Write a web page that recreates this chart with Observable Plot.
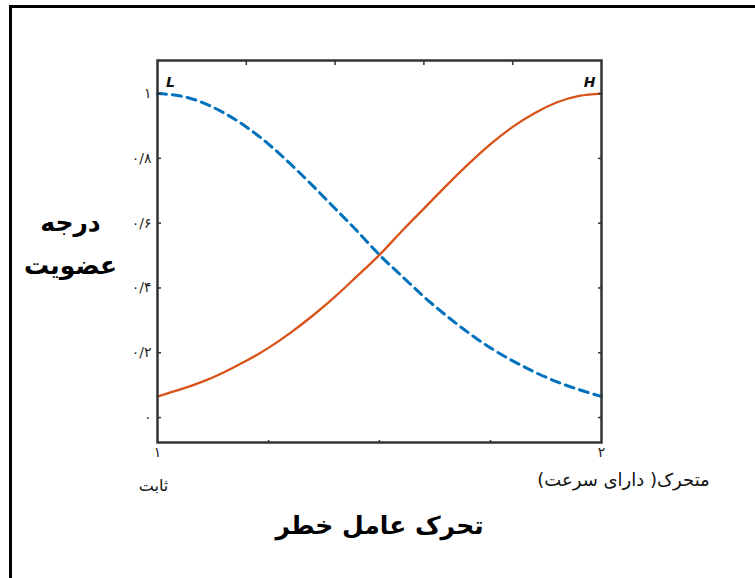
<!DOCTYPE html>
<html>
<head>
<meta charset="utf-8">
<script src="https://cdn.jsdelivr.net/npm/d3@7"></script>
<script src="https://cdn.jsdelivr.net/npm/@observablehq/plot@0.6"></script>
<style>
  html, body { margin: 0; padding: 0; background: #fff; }
  #wrap { position: relative; width: 755px; height: 578px; overflow: hidden; }
  #border { position: absolute; left: 9px; top: 5px; right: -10px; bottom: -10px;
            border-left: 3px solid #000; border-top: 3px solid #000; pointer-events: none; }
  #chart { position: absolute; left: 0; top: 0; }
</style>
</head>
<body>
<div id="wrap"><div id="chart"></div><div id="border"></div></div>
<script>
// ---- data ----
const xValues = [1, 1.05, 1.1, 1.15, 1.2, 1.25, 1.3, 1.35, 1.4, 1.45, 1.5,
                 1.55, 1.6, 1.65, 1.7, 1.75, 1.8, 1.85, 1.9, 1.95, 2];
// H (orange, solid)
const highValues = [0.065, 0.086, 0.11, 0.14, 0.175, 0.215, 0.262, 0.315, 0.373, 0.437, 0.502,
                    0.575, 0.645, 0.715, 0.782, 0.844, 0.897, 0.94, 0.973, 0.993, 1.0];
// L (blue, dashed)
const lowValues = [1.0, 0.993, 0.973, 0.94, 0.897, 0.844, 0.782, 0.715, 0.645, 0.575, 0.502,
                   0.437, 0.373, 0.315, 0.262, 0.215, 0.175, 0.14, 0.11, 0.086, 0.065];

const yTicks = [0, 0.2, 0.4, 0.6, 0.8, 1];
const yTickLabels = ["۰", "۰/۲", "۰/۴", "۰/۶", "۰/۸", "۱"];
const xTicks = [1, 2];
const xTickLabels = ["۱", "۲"];
const topMinorTicks = [1.2, 1.4, 1.6, 1.8];
const bottomMinorTicks = [1.25, 1.5, 1.75];

const seriesNames = ["L", "H"];
const xTitle = "تحرک عامل خطر";
const yTitle = "درجه\nعضویت";
const xStartLabel = "ثابت";
const xEndLabel = "متحرک( دارای سرعت)";

const table = xValues.map((x, i) => ({x, high: highValues[i], low: lowValues[i]}));

const font = "'DejaVu Sans', sans-serif";

const svg = Plot.plot({
  width: 755,
  height: 578,
  marginLeft: 157,
  marginRight: 154,
  marginTop: 60,
  marginBottom: 136,
  x: {domain: [1, 2]},
  y: {domain: [-0.077, 1.102]},
  style: {fontFamily: font, background: "transparent", color: "#222"},
  marks: [
    Plot.line(table, {x: "x", y: "high", stroke: "#D95319", strokeWidth: 2.3, curve: "natural"}),
    Plot.line(table, {x: "x", y: "low", stroke: "#0072BD", strokeWidth: 3, strokeDasharray: "9,6", curve: "natural"}),
    Plot.frame({stroke: "#333", strokeWidth: 2.5}),
    // inward ticks
    Plot.axisY(yTicks, {anchor: "left", tickSize: 4, dx: 4, tickFormat: () => "", label: null, stroke: "#333", strokeWidth: 1.5}),
    Plot.axisY(yTicks, {anchor: "right", tickSize: 4, dx: -4, tickFormat: () => "", label: null, stroke: "#333", strokeWidth: 1.5}),
    Plot.axisX(topMinorTicks, {anchor: "top", tickSize: 4, dy: 4, tickFormat: () => "", label: null, stroke: "#333", strokeWidth: 1.5}),
    Plot.axisX(bottomMinorTicks, {anchor: "bottom", tickSize: 2, dy: -2, tickFormat: () => "", label: null, stroke: "#333", strokeWidth: 1.5}),
    // tick labels
    Plot.axisY(yTicks, {anchor: "left", tickSize: 0, tickPadding: 6, tickFormat: d => yTickLabels[yTicks.indexOf(d)], label: null, fontSize: 14, fill: "#222"}),
    Plot.axisX(xTicks, {anchor: "bottom", tickSize: 0, tickPadding: 5, tickFormat: d => xTickLabels[xTicks.indexOf(d)], label: null, fontSize: 14, fill: "#222"}),
    // series labels
    Plot.text([seriesNames[0]], {text: d => d, x: 1, frameAnchor: "top", dx: 13, dy: 17, fontSize: 14, fontWeight: "bold", fontStyle: "italic", fill: "#111"}),
    Plot.text([seriesNames[1]], {text: d => d, x: 2, frameAnchor: "top", dx: -12, dy: 17, fontSize: 14, fontWeight: "bold", fontStyle: "italic", fill: "#111"}),
    // end labels
    Plot.text([xStartLabel], {text: d => d, x: 1, frameAnchor: "bottom", dx: -4, dy: 48, fontSize: 16, fill: "#111"}),
    Plot.text([xEndLabel], {text: d => d, x: 2, frameAnchor: "bottom", dx: 22, dy: 43, fontSize: 18, fill: "#111"}),
    // titles
    Plot.text([xTitle], {text: d => d, frameAnchor: "bottom", dy: 91, fontSize: 25, fontWeight: "bold", fill: "#000"}),
    Plot.text([yTitle], {text: d => d, frameAnchor: "left", textAnchor: "middle", dx: -87, dy: -13, lineHeight: 1.75, fontSize: 25, fontWeight: "bold", fill: "#000"})
  ]
});

d3.select(svg).selectAll("text")
  .filter(function() { return /[\u0600-\u06FF]/.test(this.textContent) && /[()]/.test(this.textContent); })
  .attr("direction", "rtl")
  .style("direction", "rtl");

document.getElementById("chart").appendChild(svg);
</script>
</body>
</html>
